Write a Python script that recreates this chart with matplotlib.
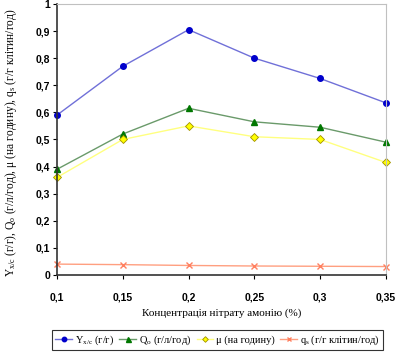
import matplotlib
matplotlib.use('Agg')
import matplotlib.pyplot as plt

conc = [0.1, 0.15, 0.2, 0.25, 0.3, 0.35]
y_xc = [0.59, 0.77, 0.905, 0.80, 0.725, 0.635]
q_o = [0.39, 0.52, 0.615, 0.565, 0.545, 0.49]
mu = [0.36, 0.50, 0.55, 0.51, 0.50, 0.415]
q_s = [0.040, 0.038, 0.035, 0.033, 0.032, 0.031]

xticks = [0.1, 0.15, 0.2, 0.25, 0.3, 0.35]
xtick_labels = ['0,1', '0,15', '0,2', '0,25', '0,3', '0,35']
yticks = [0, 0.1, 0.2, 0.3, 0.4, 0.5, 0.6, 0.7, 0.8, 0.9, 1]
ytick_labels = ['0', '0,1', '0,2', '0,3', '0,4', '0,5', '0,6', '0,7', '0,8', '0,9', '1']

plt.rcParams['mathtext.fontset'] = 'custom'
plt.rcParams['mathtext.rm'] = 'Liberation Serif'
plt.rcParams['mathtext.it'] = 'Liberation Serif'
plt.rcParams['mathtext.default'] = 'rm'

fig = plt.figure(figsize=(3.99, 3.58), dpi=100)
ax = fig.add_axes([0.143, 0.232, 0.824, 0.757])

ax.plot(conc, y_xc, color='#7070d8', lw=1, marker='o', ms=4,
        mfc='#0000cc', mec='#0000cc', label='Y$_{x/c}$ (г/г)', clip_on=False)
ax.plot(conc, q_o, color='#6a9a6a', lw=1, marker='^', ms=4.5,
        mfc='#007700', mec='#007700', label='Q$_o$ (г/л/год)', clip_on=False)
ax.plot(conc, mu, color='#ffff80', lw=1, marker='D', ms=3.6,
        mfc='#ffff00', mec='#a09000', mew=0.6, label='μ (на годину)', clip_on=False)
ax.plot(conc, q_s, color='#ff9f80', lw=1, marker='x', ms=4,
        mec='#ff8060', label='q$_s$ (г/г клітин/год)', clip_on=False)

ax.set_xlim(0.1, 0.35)
ax.set_ylim(0, 1)
ax.set_xticks(xticks)
ax.set_xticklabels(xtick_labels)
ax.set_yticks(yticks)
ax.set_yticklabels(ytick_labels)
for lab in ax.get_xticklabels() + ax.get_yticklabels():
    lab.set_fontweight('bold')
    lab.set_fontsize(7.5)
    lab.set_family('Liberation Sans')
ax.tick_params(length=3, width=0.8, pad=2)
ax.tick_params(axis='x', pad=10)

for s in ['top', 'right']:
    ax.spines[s].set_color('#c0c0c0')
for s in ['left', 'bottom']:
    ax.spines[s].set_color('#333333')
    ax.spines[s].set_linewidth(1.2)

ax.set_xlabel('Концентрація нітрату амонію (%)', family='Liberation Serif', fontsize=8, labelpad=4)
ax.set_ylabel('Y$_{x/c}$ (г/г), Q$_o$ (г/л/год), μ (на годину), q$_s$ (г/г клітин/год)',
              family='Liberation Serif', fontsize=8.3, labelpad=13)
ax.yaxis.set_label_coords(-0.115, 0.49)

leg = fig.legend(loc='center', bbox_to_anchor=(0.545, 0.05), ncol=4,
                 prop={'family': 'Liberation Serif', 'size': 7.5},
                 frameon=True, fancybox=False, edgecolor='black',
                 handlelength=1.6, handletextpad=0.3, columnspacing=0.5,
                 borderpad=0.3, markerscale=0.8)
leg.get_frame().set_linewidth(0.8)

fig.savefig('out.png', dpi=100)
